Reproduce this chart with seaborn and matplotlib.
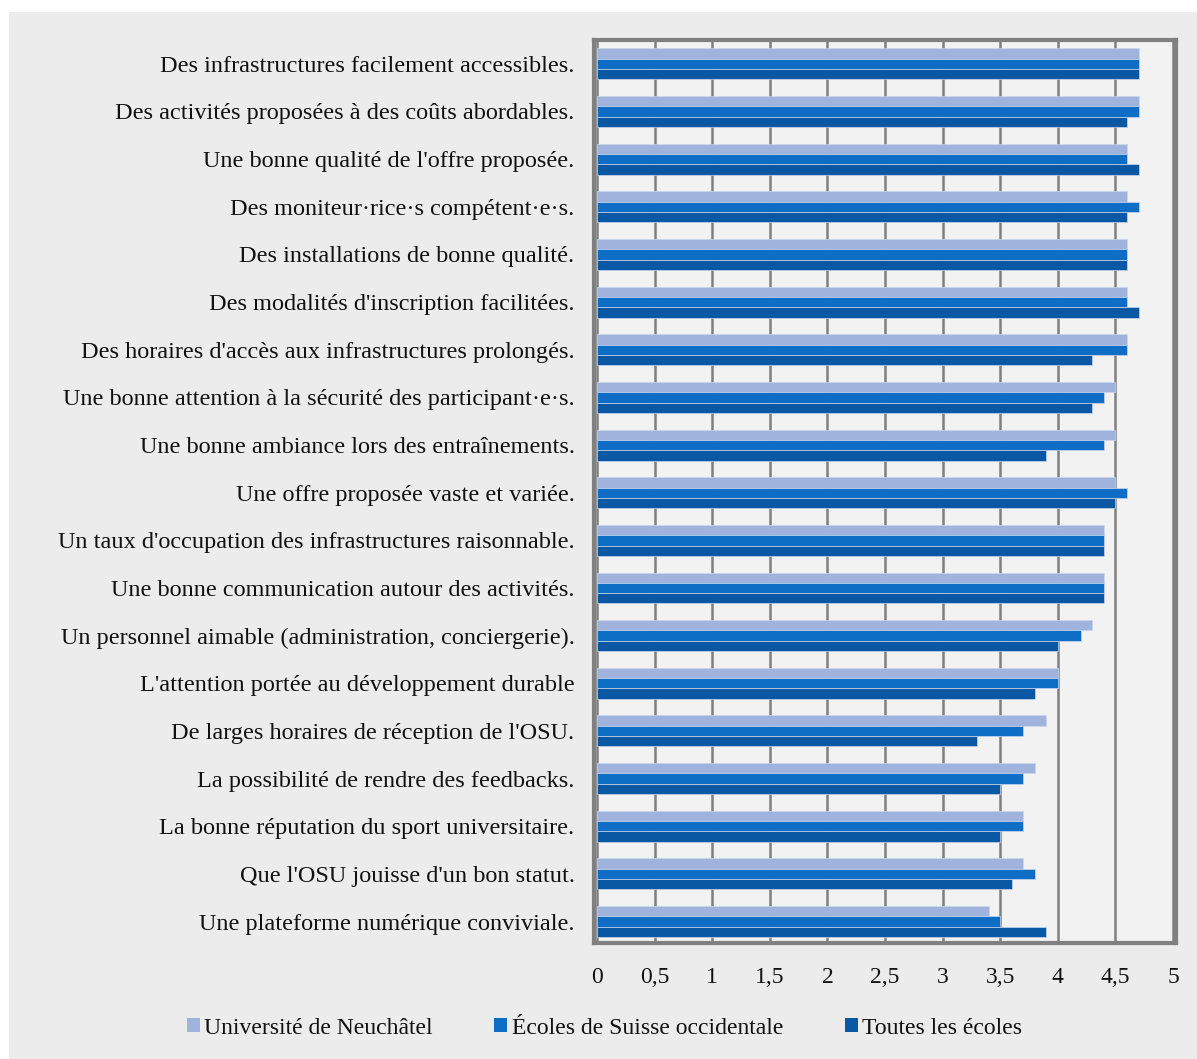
import matplotlib
matplotlib.use('Agg')
import matplotlib.pyplot as plt
import matplotlib.patches as mpatches
import seaborn as sns
import pandas as pd

categories = [
    "Des infrastructures facilement accessibles.",
    "Des activités proposées à des coûts abordables.",
    "Une bonne qualité de l'offre proposée.",
    "Des moniteur·rice·s compétent·e·s.",
    "Des installations de bonne qualité.",
    "Des modalités d'inscription facilitées.",
    "Des horaires d'accès aux infrastructures prolongés.",
    "Une bonne attention à la sécurité des participant·e·s.",
    "Une bonne ambiance lors des entraînements.",
    "Une offre proposée vaste et variée.",
    "Un taux d'occupation des infrastructures raisonnable.",
    "Une bonne communication autour des activités.",
    "Un personnel aimable (administration, conciergerie).",
    "L'attention portée au développement durable",
    "De larges horaires de réception de l'OSU.",
    "La possibilité de rendre des feedbacks.",
    "La bonne réputation du sport universitaire.",
    "Que l'OSU jouisse d'un bon statut.",
    "Une plateforme numérique conviviale.",
]
series = ["Université de Neuchâtel", "Écoles de Suisse occidentale", "Toutes les écoles"]
unine = [4.7, 4.7, 4.6, 4.6, 4.6, 4.6, 4.6, 4.5, 4.5, 4.5, 4.4, 4.4, 4.3, 4.0, 3.9, 3.8, 3.7, 3.7, 3.4]
suisse_occ = [4.7, 4.7, 4.6, 4.7, 4.6, 4.6, 4.6, 4.4, 4.4, 4.6, 4.4, 4.4, 4.2, 4.0, 3.7, 3.7, 3.7, 3.8, 3.5]
toutes = [4.7, 4.6, 4.7, 4.6, 4.6, 4.7, 4.3, 4.3, 3.9, 4.5, 4.4, 4.4, 4.0, 3.8, 3.3, 3.5, 3.5, 3.6, 3.9]
colors = ["#9FB3DD", "#0E6EC6", "#0A58A3"]

sns.set_theme(style='white')
plt.rcParams['font.family'] = ['Liberation Serif', 'DejaVu Serif']
plt.rcParams['text.color'] = '#111111'
plt.rcParams['xtick.color'] = '#111111'
plt.rcParams['ytick.color'] = '#111111'

rows = []
for s, vals in zip(series, [unine, suisse_occ, toutes]):
    for c, v in zip(categories, vals):
        rows.append({'cat': c, 'serie': s, 'val': v})
df = pd.DataFrame(rows)

fig = plt.figure(figsize=(11.97, 10.59), dpi=100)
fig.patch.set_facecolor('white')
# grey panel behind the chart
fig.patches.append(mpatches.Rectangle((9 / 1197, 0.0), 1 - 9 / 1197, 1 - 12 / 1059,
                                      transform=fig.transFigure, facecolor='#ECECEC',
                                      edgecolor='none', zorder=-10))

ax = fig.add_axes([594 / 1197, 1 - 943 / 1059, 582 / 1197, 903 / 1059])
ax.set_facecolor('#F2F2F2')
sns.barplot(data=df, x='val', y='cat', hue='serie', hue_order=series, palette=colors,
            saturation=1, orient='h', width=0.65, ax=ax, edgecolor='#C9D7EE', linewidth=0.5,
            errorbar=None, legend=False, zorder=3)

ax.set_xlim(-0.025, 5.025)
ax.set_ylim(18.45, -0.5)
ticks = [0, 0.5, 1, 1.5, 2, 2.5, 3, 3.5, 4, 4.5, 5]
ax.set_xticks(ticks)
ax.set_xticklabels([f"{t:g}".replace('.', ',') for t in ticks], fontsize=17)
ax.tick_params(axis='y', labelsize=17.5, length=0, pad=14, labelcolor='#111111')
ax.tick_params(axis='x', length=0, pad=17, labelcolor='#111111')
ax.xaxis.grid(True, color='#7F7F7F', linewidth=1.8, zorder=0)
ax.set_axisbelow(True)
ax.set_xlabel('')
ax.set_ylabel('')
for sp in ax.spines.values():
    sp.set_visible(True)
    sp.set_color('#808080')
    sp.set_linewidth(3)

handles = [mpatches.Patch(facecolor=c, edgecolor='none', label=s) for c, s in zip(colors, series)]
fig.legend(handles=handles, loc='center', bbox_to_anchor=(0.505, 1 - 1028 / 1059), ncol=3,
           frameon=False, fontsize=17, handlelength=0.55, handleheight=0.55,
           handletextpad=0.2, columnspacing=2.6)

fig.savefig('out.png', dpi=100)
